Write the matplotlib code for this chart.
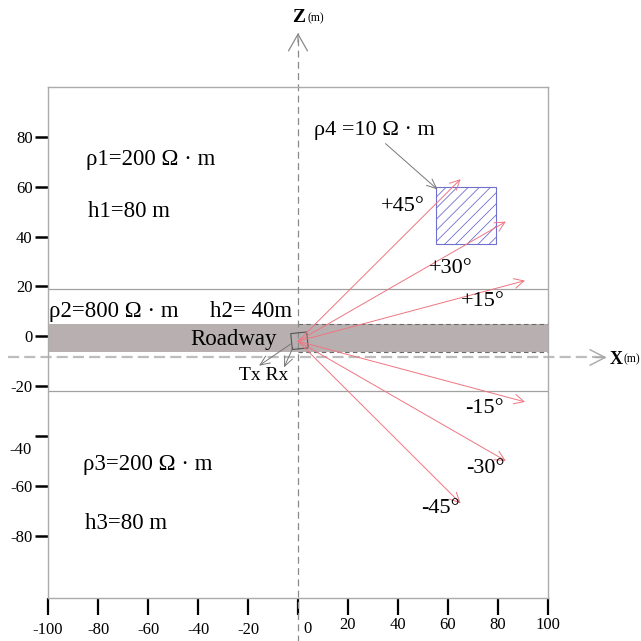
import numpy as np
import matplotlib
matplotlib.use("Agg")
import matplotlib.pyplot as plt
from matplotlib.patches import Rectangle
from matplotlib.transforms import ScaledTranslation

plt.rcParams['font.family'] = ['Liberation Serif', 'DejaVu Serif']
plt.rcParams['hatch.linewidth'] = 0.6

# ---------------- data ----------------
x_ticks = [-100, -80, -60, -40, -20, 0, 20, 40, 60, 80, 100]
z_ticks = [-80, -60, -40, -20, 0, 20, 40, 60, 80]
layer_bounds = [19, -22]                 # layer interfaces (m)
roadway_z = [-6.5, 5]                    # roadway band bottom/top (m)
anomaly_x = [55, 79]                     # low-resistivity body x range
anomaly_z = [37, 60]                     # low-resistivity body z range
ray_angles = [45, 30, 15, -15, -30, -45]  # degrees
ray_lengths = [92, 96, 94, 94, 96, 92]
ray_labels = ['+45°', '+30°', '+15°', '-15°', '-30°', '-45°']
source = [0, -2]                         # Tx/Rx position
layer_texts = ['ρ1=200 Ω · m', 'h1=80 m', 'ρ2=800 Ω · m', 'h2= 40m',
               'ρ3=200 Ω · m', 'h3=80 m']

# ---------------- figure ----------------
fig = plt.figure(figsize=(6.41, 6.41), dpi=100)
ax = fig.add_axes([48/641, 43/641, 500/641, 511/641])
ax.set_xlim(-100, 100)
ax.set_ylim(-105, 100)

for s in ax.spines.values():
    s.set_color('#ababab')
    s.set_linewidth(1.0)

ax.set_xticks(x_ticks)
ax.set_yticks(z_ticks)
ax.set_xticklabels([str(v) for v in x_ticks])
ax.set_yticklabels([str(v) for v in z_ticks])
ax.tick_params(axis='x', direction='out', length=12, width=1.6, color='black',
               pad=5.5, labelsize=12)
ax.tick_params(axis='y', direction='out', length=9.5, width=1.8, color='black',
               pad=1.5, labelsize=12)

# small hand-placed label offsets (pixels)
def shift(lbl, dx, dy):
    lbl.set_transform(lbl.get_transform() +
                      ScaledTranslation(dx/100, dy/100, fig.dpi_scale_trans))

for v, lbl in zip(x_ticks, ax.get_xticklabels()):
    if v == 0:
        shift(lbl, 9, 1)
    elif v > 0:
        shift(lbl, 0, 5)
for v, lbl in zip(z_ticks, ax.get_yticklabels()):
    if v == -40:
        shift(lbl, -1, -12)

# layer interfaces
for zb in layer_bounds:
    ax.axhline(zb, color='#a0a0a0', lw=0.9, zorder=2)

# roadway band
ax.fill_between([-100, 100], roadway_z[0], roadway_z[1], color='#b8b0b0',
                lw=0, zorder=1)
for zb in roadway_z:
    ax.plot([0, 100], [zb, zb], ls=(0, (4, 3)), color='#6a6a6a', lw=0.8, zorder=2)

# anomaly body
ax.add_patch(Rectangle((anomaly_x[0], anomaly_z[0]),
                       anomaly_x[1] - anomaly_x[0], anomaly_z[1] - anomaly_z[0],
                       fill=False, hatch='///', edgecolor='#6f6fd0', lw=0.8,
                       zorder=3))

# Tx/Rx small square
ax.add_patch(Rectangle((source[0] - 2.6, source[1] - 3.0), 6.4, 6.4, angle=6,
                       rotation_point='center', fill=False,
                       edgecolor='#555555', lw=0.8, zorder=4))

# rays
for ang, L in zip(ray_angles, ray_lengths):
    tip = (source[0] + L*np.cos(np.radians(ang)),
           source[1] + L*np.sin(np.radians(ang)))
    ax.annotate('', xy=tip, xytext=source,
                arrowprops=dict(arrowstyle='->,head_length=0.7,head_width=0.35',
                                mutation_scale=10, color='#ef7580', lw=0.7,
                                shrinkA=0, shrinkB=0), zorder=5)

ray_label_pos = [(42, 52), (61, 27), (74, 14), (74.5, -29), (75, -53), (57, -69)]
for lab, (px, pz) in zip(ray_labels, ray_label_pos):
    ax.text(px, pz, lab, fontsize=16, ha='center', va='center', zorder=6)

# layer text
fs = 16.5
ax.text(-85, 71, layer_texts[0], fontsize=fs, ha='left', va='center')
ax.text(-84, 50, layer_texts[1], fontsize=fs, ha='left', va='center')
ax.text(-99.5, 9.8, layer_texts[2], fontsize=fs, ha='left', va='center')
ax.text(-35.3, 9.8, layer_texts[3], fontsize=fs, ha='left', va='center')
ax.text(-86, -51.5, layer_texts[4], fontsize=fs, ha='left', va='center')
ax.text(-85.3, -75.2, layer_texts[5], fontsize=fs, ha='left', va='center')
ax.text(-8.4, -1.4, 'Roadway', fontsize=fs, ha='right', va='center', zorder=6)
ax.text(-23.6, -15.8, 'Tx Rx', fontsize=14, ha='left', va='center')
ax.text(6.4, 82.4, 'ρ4 =10 Ω · m', fontsize=16, ha='left', va='center')

# pointer arrows
gray_arrow = dict(arrowstyle='->,head_length=0.7,head_width=0.3',
                  mutation_scale=10, color='#777777', lw=0.7,
                  shrinkA=0, shrinkB=0)
ax.annotate('', xy=(55.8, 58.9), xytext=(35, 77.3), arrowprops=gray_arrow)
ax.annotate('', xy=(-15.6, -11.8), xytext=(-2.9, -3.1), arrowprops=gray_arrow)
ax.annotate('', xy=(-5.6, -12.5), xytext=(-2.0, -4.5), arrowprops=gray_arrow)

# coordinate axes (dashed with open arrow heads)
ax.plot([0, 0], [-125, 121.5], ls=(0, (5.5, 3.5)), color='#8a8a8a', lw=0.9,
        clip_on=False, zorder=2)
ax.annotate('', xy=(0, 121.7), xytext=(0, 118),
            arrowprops=dict(arrowstyle='->,head_length=0.6,head_width=0.34',
                            mutation_scale=20, color='#8a8a8a', lw=0.9,
                            shrinkA=0, shrinkB=0), annotation_clip=False)
ax.plot([-116, 123], [-8.5, -8.5], ls=(0, (5, 2.3)), color='#bdbdbd', lw=1.6,
        clip_on=False, zorder=2)
ax.annotate('', xy=(123.5, -8.5), xytext=(119, -8.5),
            arrowprops=dict(arrowstyle='->,head_length=0.55,head_width=0.28',
                            mutation_scale=20, color='#a8a8a8', lw=1.0,
                            shrinkA=0, shrinkB=0), annotation_clip=False)

ax.text(0.4, 128, 'Z', fontsize=14, fontweight='bold', ha='center',
        va='center', clip_on=False)
ax.text(3.8, 127.4, '(m)', fontsize=8.5, ha='left', va='center', clip_on=False)
ax.text(124.8, -9.2, 'X', fontsize=13, fontweight='bold', ha='left',
        va='center', clip_on=False)
ax.text(130.2, -9.2, '(m)', fontsize=8.5, ha='left', va='center', clip_on=False)

fig.savefig('out.png', dpi=100)
